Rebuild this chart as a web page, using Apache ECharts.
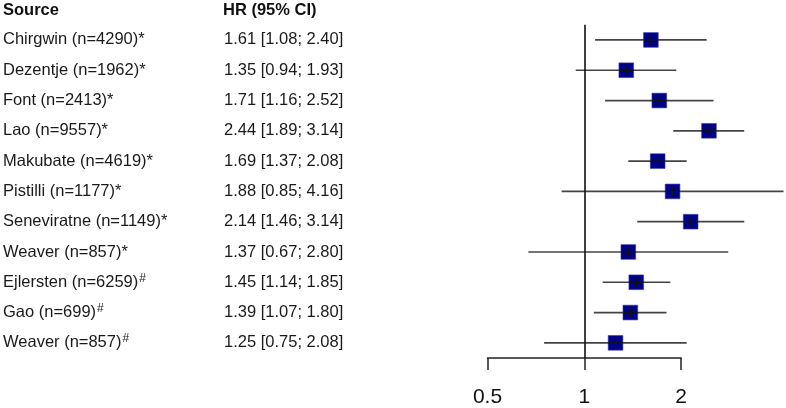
<!DOCTYPE html>
<html>
<head>
<meta charset="utf-8">
<script src="https://cdn.jsdelivr.net/npm/echarts@6/dist/echarts.min.js"></script>
<style>
  html, body { margin: 0; padding: 0; background: #fff; }
  #chart { width: 786px; height: 408px; }
</style>
</head>
<body>
<div id="chart"></div>
<script>
// study labels and their footnote marks
const studies = ['Chirgwin (n=4290)', 'Dezentje (n=1962)', 'Font (n=2413)', 'Lao (n=9557)',
  'Makubate (n=4619)', 'Pistilli (n=1177)', 'Seneviratne (n=1149)', 'Weaver (n=857)',
  'Ejlersten (n=6259)', 'Gao (n=699)', 'Weaver (n=857)'];
const marks = ['*', '*', '*', '*', '*', '*', '*', '*', '#', '#', '#'];
const hr = [1.61, 1.35, 1.71, 2.44, 1.69, 1.88, 2.14, 1.37, 1.45, 1.39, 1.25];
const lower = [1.08, 0.94, 1.16, 1.89, 1.37, 0.85, 1.46, 0.67, 1.14, 1.07, 0.75];
const upper = [2.40, 1.93, 2.52, 3.14, 2.08, 4.16, 3.14, 2.80, 1.85, 1.80, 2.08];
const xTicks = [0.5, 1, 2];

const FONT = 'Liberation Sans, Arial, sans-serif';
const rows = studies.map((s, i) => String(i));

let chart = echarts.init(document.getElementById('chart'));

chart.setOption({
  animation: false,
  title: [
    {text: 'Source', left: 3, top: 2, padding: 0,
      textStyle: {fontFamily: FONT, fontSize: 16.5, fontWeight: 'bold', color: '#111'}},
    {text: 'HR (95% CI)', left: 223, top: 2, padding: 0,
      textStyle: {fontFamily: FONT, fontSize: 16.5, fontWeight: 'bold', color: '#111'}}
  ],
  grid: {left: 487.5, top: 24.8, width: 193.7, height: 335.2},
  xAxis: {
    type: 'log',
    logBase: 2,
    min: 0.5,
    max: 2,
    axisLine: {show: true, lineStyle: {color: '#222', width: 1.5}},
    axisTick: {show: true, length: 12, lineStyle: {color: '#222', width: 1.5}},
    axisLabel: {
      margin: 29,
      fontFamily: FONT, fontSize: 21, color: '#111',
      formatter: v => xTicks.indexOf(+v) >= 0 ? String(+v) : ''
    },
    splitLine: {show: false}
  },
  yAxis: [
    {
      type: 'category', data: rows, inverse: true,
      axisLine: {show: false}, axisTick: {show: false},
      axisLabel: {
        align: 'left', margin: 484.5,
        fontFamily: FONT, fontSize: 16.5, color: '#1a1a1a',
        formatter: v => marks[+v] === '#' ? studies[+v] + '{sup|#}' : studies[+v] + marks[+v],
        rich: {sup: {fontFamily: FONT, fontSize: 12, color: '#1a1a1a', verticalAlign: 'top', padding: [0, 0, 8, 1]}}
      }
    },
    {
      type: 'category', data: rows, inverse: true, position: 'left',
      axisLine: {show: false}, axisTick: {show: false},
      axisLabel: {
        align: 'left', margin: 263.5,
        fontFamily: FONT, fontSize: 16.5, color: '#1a1a1a',
        formatter: v => hr[+v].toFixed(2) + ' [' + lower[+v].toFixed(2) + '; ' + upper[+v].toFixed(2) + ']'
      }
    }
  ],
  series: [
    {
      type: 'line',
      data: [],
      markLine: {
        silent: true, symbol: 'none', label: {show: false},
        lineStyle: {color: '#111', width: 1.6, type: 'solid'},
        data: [{xAxis: 1}]
      }
    },
    {
      type: 'custom',
      clip: false,
      data: hr.map((h, i) => [h, lower[i], upper[i], i]),
      encode: {x: 0, y: 3},
      renderItem: function (params, api) {
        let row = api.value(3);
        let mid = api.coord([api.value(0), row]);
        let lo = api.coord([api.value(1), row]);
        let hi = api.coord([api.value(2), row]);
        let s = 14.7;
        return {
          type: 'group',
          children: [
            {type: 'line', shape: {x1: lo[0], y1: lo[1], x2: hi[0], y2: hi[1]},
              style: {stroke: '#444', lineWidth: 1.7}},
            {type: 'rect', shape: {x: mid[0] - s / 2, y: mid[1] - s / 2, width: s, height: s},
              style: {fill: '#00008B', stroke: '#3a3aa8', lineWidth: 0.6}},
            {type: 'line', shape: {x1: mid[0] - s / 2, y1: mid[1], x2: mid[0] + s / 2, y2: mid[1]},
              style: {stroke: '#111', lineWidth: 1.3}},
            {type: 'line', shape: {x1: mid[0], y1: mid[1] - 5, x2: mid[0], y2: mid[1] + 5},
              style: {stroke: '#111', lineWidth: 1.3}}
          ]
        };
      }
    }
  ]
});
</script>
</body>
</html>
